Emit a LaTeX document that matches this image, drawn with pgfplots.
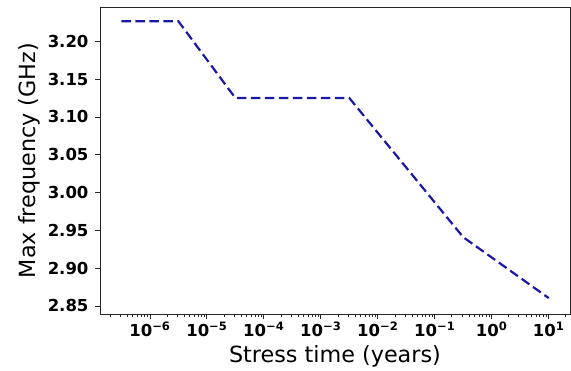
\documentclass[border=0pt]{standalone}
\usepackage{fontspec}
\setmainfont{DejaVu Sans}
\usepackage{pgfplots}
\pgfplotsset{compat=1.18}
\definecolor{linecol}{RGB}{25,25,165}
\begin{document}
\begin{tikzpicture}
\begin{axis}[
  scale only axis,
  width=470pt, height=307pt,
  xmode=log,
  xmin=1.33e-7, xmax=23.7,
  ymin=2.8394, ymax=3.2454,
  axis line style={black!85, line width=0.9pt},
  xtick pos=bottom, ytick pos=left,
  tick align=outside,
  major tick length=4.5pt, minor tick length=2.5pt,
  every tick/.style={black!85, line width=0.8pt},
  xtick={1e-6,1e-5,1e-4,1e-3,1e-2,1e-1,1,10},
  xticklabels={10\textsuperscript{−6},10\textsuperscript{−5},10\textsuperscript{−4},10\textsuperscript{−3},10\textsuperscript{−2},10\textsuperscript{−1},10\textsuperscript{0},10\textsuperscript{1}},
  minor xtick={2e-7,3e-7,4e-7,5e-7,6e-7,7e-7,8e-7,9e-7,
    2e-6,3e-6,4e-6,5e-6,6e-6,7e-6,8e-6,9e-6,
    2e-5,3e-5,4e-5,5e-5,6e-5,7e-5,8e-5,9e-5,
    2e-4,3e-4,4e-4,5e-4,6e-4,7e-4,8e-4,9e-4,
    2e-3,3e-3,4e-3,5e-3,6e-3,7e-3,8e-3,9e-3,
    2e-2,3e-2,4e-2,5e-2,6e-2,7e-2,8e-2,9e-2,
    0.2,0.3,0.4,0.5,0.6,0.7,0.8,0.9,
    2,3,4,5,6,7,8,9,20},
  ytick={2.85,2.90,2.95,3.00,3.05,3.10,3.15,3.20},
  yticklabels={2.85,2.90,2.95,3.00,3.05,3.10,3.15,3.20},
  ticklabel style={font=\fontsize{16.5}{18}\selectfont\bfseries},
  yticklabel style={xshift=-3.5pt},
  xlabel={Stress time (years)},
  ylabel={Max frequency (GHz)},
  label style={font=\fontsize{22.3}{26}\selectfont},
  xlabel style={at={(axis description cs:0.5,-0.138)}, anchor=center},
  ylabel style={at={(axis description cs:-0.151,0.5)}, anchor=center},
]
\addplot[color=linecol, line width=2.2pt, dash pattern=on 9.5pt off 4.5pt] coordinates {
  (3.162e-7,3.2265)
  (3.162e-6,3.2265)
  (3.162e-5,3.1251)
  (3.162e-3,3.1251)
  (0.3162,2.941)
  (10,2.8605)
};
\end{axis}
\pgfresetboundingbox
\path[use as bounding box] (-100pt,-56pt) rectangle (471pt,314pt);
\end{tikzpicture}
\end{document}
